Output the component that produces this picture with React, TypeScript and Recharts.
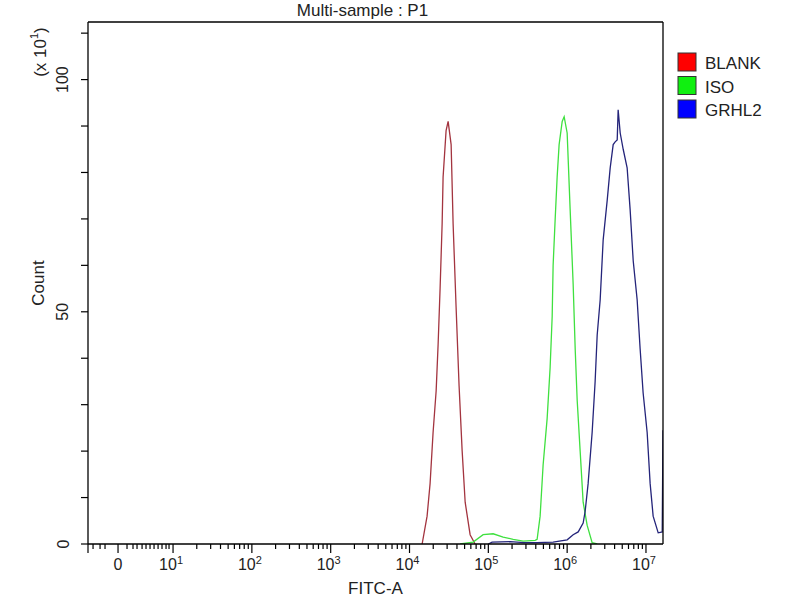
import React from "react"
import { LineChart, Line, XAxis, YAxis, Label, Legend } from "recharts"

// FITC-A position in decades (10^n), count in units of x10^1
const blankLog = [4.16, 4.223, 4.261, 4.299, 4.338, 4.363, 4.388, 4.414, 4.426, 4.464, 4.49, 4.528, 4.553, 4.591, 4.629, 4.668, 4.706, 4.769, 4.832]
const blankCount = [0, 6, 13, 24, 33, 43, 55, 69, 79, 89, 91, 86, 69, 51, 34, 20, 9, 2, 0]

const isoLog = [4.642, 4.807, 4.934, 5.061, 5.188, 5.315, 5.442, 5.594, 5.619, 5.657, 5.695, 5.746, 5.784, 5.81, 5.822, 5.848, 5.873, 5.898, 5.937, 5.962, 6.0, 6.038, 6.076, 6.102, 6.127, 6.165, 6.203, 6.254, 6.317, 6.381]
const isoCount = [0, 0.4, 2, 2.2, 1.5, 1, 0.6, 0.8, 1, 6, 17, 27, 38, 49, 60, 70, 79, 86, 91, 92, 88.5, 72, 56, 42, 31, 20, 9, 4, 0.3, 0]

const grhl2Log = [5.0, 5.048, 5.277, 5.45, 5.619, 5.822, 6.0, 6.076, 6.14, 6.203, 6.228, 6.266, 6.317, 6.355, 6.381, 6.419, 6.457, 6.508, 6.546, 6.584, 6.609, 6.635, 6.647, 6.673, 6.711, 6.761, 6.799, 6.838, 6.888, 6.926, 6.964, 7.015, 7.053, 7.091, 7.155, 7.206, 7.216]
const grhl2Count = [0, 0.4, 0.5, 0.3, 0.3, 0.4, 0.9, 2, 2.6, 4.5, 7, 13, 24, 35, 45, 52.6, 65.5, 74, 81, 86, 86.6, 87, 93.5, 88.5, 85, 81, 72, 61, 52.6, 42, 32.5, 24, 13, 6, 2.4, 2.6, 24.5]

const seriesNames = ["BLANK", "ISO", "GRHL2"]
const lineColors = ["#a3343f", "#3fe03f", "#24247a"]
const swatchColors = ["#ff0000", "#10f010", "#0000ff"]

const yTicks = [0, 10, 20, 30, 40, 50, 60, 70, 80, 90, 100, 110]
const yTickLabels: Record<number, string> = { 0: "0", 50: "50", 100: "100" }

const xMajorTicks = [-0.079, 0.302, 1, 2, 3, 4, 5, 6, 7]
const xMajorLabels = ["", "0", "10^1", "10^2", "10^3", "10^4", "10^5", "10^6", "10^7"]
const xLinearMinor = [-0.015, 0.074, 0.137, 0.416, 0.492, 0.543, 0.607, 0.657, 0.708, 0.759, 0.81, 0.86, 0.911, 0.949]
const xLogMinor: number[] = []
for (let n = 1; n < 7; n++) {
  for (let k = 2; k < 10; k++) xLogMinor.push(n + Math.log10(k))
}
const xTicks = [...xMajorTicks, ...xLinearMinor, ...xLogMinor].sort((a, b) => a - b)

const toPoints = (xs: number[], ys: number[]) => xs.map((x, i) => ({ logValue: x, count: ys[i] }))
const seriesData = [toPoints(blankLog, blankCount), toPoints(isoLog, isoCount), toPoints(grhl2Log, grhl2Count)]

const FONT = "'Liberation Sans', Arial, sans-serif"

function XTick({ x, y, payload }: any) {
  const i = xMajorTicks.indexOf(payload.value)
  const major = i >= 0
  const label = major ? xMajorLabels[i] : ""
  const [base, exp] = label.split("^")
  return (
    <g>
      <line x1={x} x2={x} y1={y} y2={y + (major ? 9 : 5)} stroke="#000" strokeWidth={1.2} />
      {label && (
        <text x={exp ? x - 2 : x} y={y + 26} textAnchor="middle" fontSize={16} fill="#222" fontFamily={FONT}>
          {base}
          {exp && (
            <tspan dy={-6} fontSize={11}>
              {exp}
            </tspan>
          )}
        </text>
      )}
    </g>
  )
}

function YTick({ x, y, payload }: any) {
  const label = yTickLabels[payload.value]
  return (
    <g>
      <line x1={x - 7} x2={x} y1={y} y2={y} stroke="#000" strokeWidth={1.2} />
      {label && (
        <text
          transform={`rotate(-90 ${x - 25} ${y})`}
          x={x - 25}
          y={y}
          textAnchor="middle"
          dominantBaseline="central"
          fontSize={16}
          fill="#222"
          fontFamily={FONT}
        >
          {label}
        </text>
      )}
    </g>
  )
}

function LegendBox() {
  return (
    <svg width={120} height={72}>
      {seriesNames.map((name, i) => (
        <g key={name}>
          <rect x={1} y={1 + i * 23.5} width={18} height={18} fill={swatchColors[i]} stroke="#333" />
          <text x={28} y={17 + i * 23.5} fontSize={17} fill="#222" fontFamily={FONT}>
            {name}
          </text>
        </g>
      ))}
    </svg>
  )
}

export default function App() {
  return (
    <div style={{ position: "absolute", left: 0, top: 0, width: 800, height: 600, background: "#fff" }}>
      <LineChart width={800} height={600} margin={{ top: 21, right: 136, bottom: 55, left: 87 }}>
        <XAxis
          dataKey="logValue"
          type="number"
          domain={[-0.079, 7.216]}
          allowDataOverflow
          ticks={xTicks}
          interval={0}
          tick={(p: any) => <XTick {...p} />}
          tickLine={false}
          tickSize={0}
          tickMargin={0}
          height={1}
          axisLine={{ stroke: "#000", strokeWidth: 1.3 }}
        >
          <Label
            content={(p: any) => {
              const vb = p.viewBox
              return (
                <text x={vb.x + vb.width / 2} y={vb.y + 50} textAnchor="middle" fontSize={17} fill="#222" fontFamily={FONT}>
                  FITC-A
                </text>
              )
            }}
          />
        </XAxis>
        <XAxis
          xAxisId="top"
          orientation="top"
          type="number"
          domain={[-0.079, 7.216]}
          allowDataOverflow
          tick={false}
          tickLine={false}
          height={1}
          axisLine={{ stroke: "#000", strokeWidth: 1.3 }}
        >
          <Label
            content={(p: any) => {
              const vb = p.viewBox
              return (
                <text x={vb.x + vb.width / 2 - 13} y={16} textAnchor="middle" fontSize={17} fill="#222" fontFamily={FONT}>
                  Multi-sample : P1
                </text>
              )
            }}
          />
        </XAxis>
        <YAxis
          type="number"
          domain={[0, 112.4]}
          allowDataOverflow
          ticks={yTicks}
          interval={0}
          tick={(p: any) => <YTick {...p} />}
          tickLine={false}
          tickSize={0}
          tickMargin={0}
          width={1}
          axisLine={{ stroke: "#000", strokeWidth: 1.3 }}
        >
          <Label
            content={(p: any) => {
              const vb = p.viewBox
              const ax = vb.x + vb.width
              const cy = vb.y + vb.height / 2
              return (
                <g fontFamily={FONT} fill="#222">
                  <text transform={`rotate(-90 ${ax - 50} ${cy})`} x={ax - 50} y={cy} textAnchor="middle" dominantBaseline="central" fontSize={17}>
                    Count
                  </text>
                  <text
                    transform={`rotate(-90 ${ax - 48} ${vb.y + 30})`}
                    x={ax - 48}
                    y={vb.y + 30}
                    textAnchor="middle"
                    dominantBaseline="central"
                    fontSize={17}
                  >
                    (x 10
                    <tspan dy={-6} fontSize={11}>
                      1
                    </tspan>
                    <tspan dy={6}>)</tspan>
                  </text>
                </g>
              )
            }}
          />
        </YAxis>
        <YAxis
          yAxisId="right"
          orientation="right"
          type="number"
          domain={[0, 112.4]}
          tick={false}
          tickLine={false}
          width={1}
          axisLine={{ stroke: "#000", strokeWidth: 1.3 }}
        />
        <Legend
          content={<LegendBox />}
          layout="vertical"
          align="center"
          verticalAlign="middle"
          wrapperStyle={{ left: 677, top: 52, width: 120, height: 72 }}
        />
        {seriesData.map((d, i) => (
          <Line
            key={seriesNames[i]}
            name={seriesNames[i]}
            data={d}
            dataKey="count"
            type="linear"
            stroke={lineColors[i]}
            strokeWidth={1.3}
            dot={false}
            isAnimationActive={false}
          />
        ))}
      </LineChart>
    </div>
  )
}
